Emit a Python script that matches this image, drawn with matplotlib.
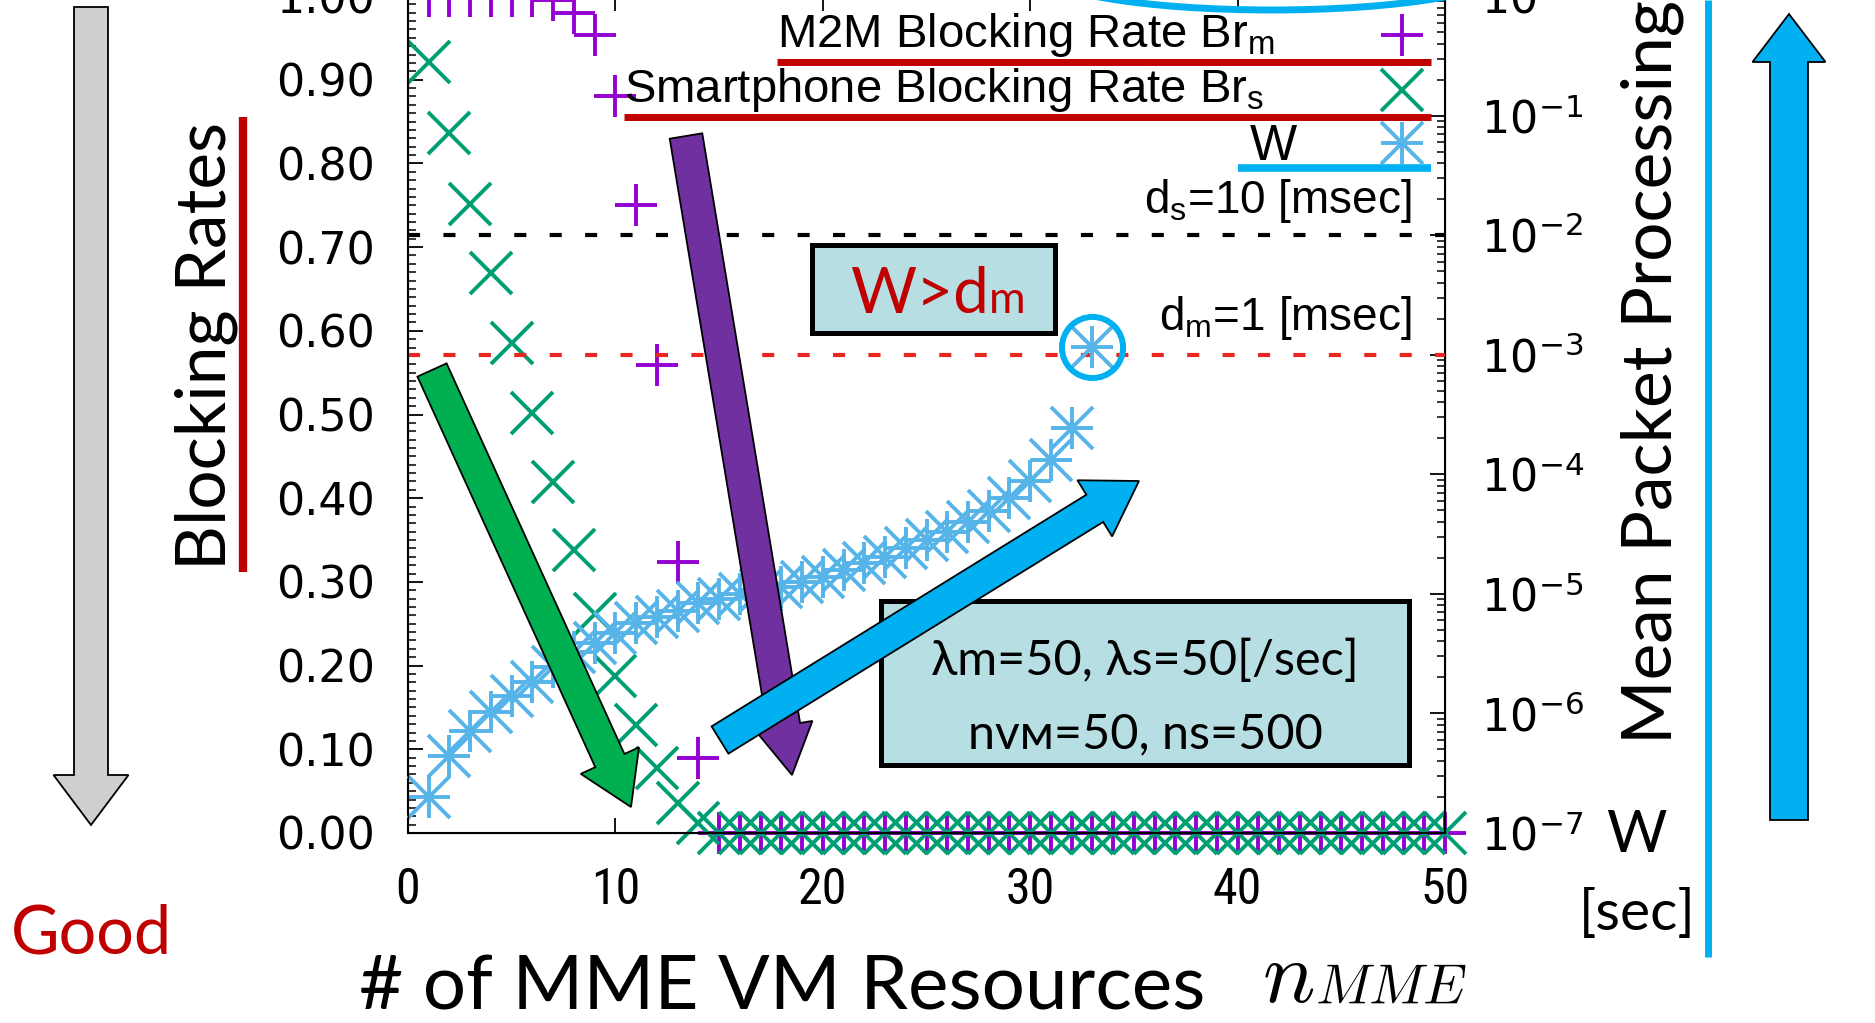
import numpy as np
import matplotlib
matplotlib.use('Agg')
import matplotlib.pyplot as plt
from matplotlib import font_manager
from matplotlib.patches import FancyArrow, Rectangle, Ellipse
from matplotlib.ticker import MultipleLocator, LogLocator, NullFormatter

# pick fonts that are really installed
names = {f.name for f in font_manager.fontManager.ttflist}
narrow = next((n for n in ['Liberation Sans Narrow', 'Roboto Condensed'] if n in names), 'Liberation Sans')
office = 'Lato' if 'Lato' in names else 'Open Sans'

# ---- data ----
# M2M blocking rate Br_m
n_m = [1, 2, 3, 4, 5, 6, 7, 8, 9, 10, 11, 12, 13, 14, 15, 16, 17, 18, 19, 20,
       21, 22, 23, 24, 25, 26, 27, 28, 29, 30, 31, 32, 33, 34, 35, 36, 37, 38, 39, 40,
       41, 42, 43, 44, 45, 46, 47, 48, 49, 50]
br_m = [1.0, 1.0, 1.0, 1.0, 1.0, 1.0, 0.995, 0.98, 0.953, 0.880, 0.750, 0.559, 0.324, 0.090, 0.0,
        0.0, 0.0, 0.0, 0.0, 0.0, 0.0, 0.0, 0.0, 0.0, 0.0, 0.0, 0.0, 0.0, 0.0, 0.0,
        0.0, 0.0, 0.0, 0.0, 0.0, 0.0, 0.0, 0.0, 0.0, 0.0, 0.0, 0.0, 0.0, 0.0, 0.0,
        0.0, 0.0, 0.0, 0.0, 0.0]
# smartphone blocking rate Br_s
n_s = n_m
br_s = [0.921, 0.836, 0.752, 0.669, 0.585, 0.502, 0.419, 0.338, 0.262, 0.187, 0.129, 0.078, 0.036, 0.012, 0.0,
        0.0, 0.0, 0.0, 0.0, 0.0, 0.0, 0.0, 0.0, 0.0, 0.0, 0.0, 0.0, 0.0, 0.0, 0.0,
        0.0, 0.0, 0.0, 0.0, 0.0, 0.0, 0.0, 0.0, 0.0, 0.0, 0.0, 0.0, 0.0, 0.0, 0.0,
        0.0, 0.0, 0.0, 0.0, 0.0]
# mean packet processing time W [sec]
n_w = [1, 2, 3, 4, 5, 6, 7, 8, 9, 10, 11, 12, 13, 14, 15, 16, 17, 18, 19, 20,
       21, 22, 23, 24, 25, 26, 27, 28, 29, 30, 31, 32, 33]
w_sec = [2.0e-7, 4.4e-7, 7.1e-7, 1.02e-6, 1.41e-6, 1.82e-6, 2.45e-6, 3.24e-6, 3.89e-6, 4.68e-6,
         5.75e-6, 6.46e-6, 7.24e-6, 8.32e-6, 9.12e-6, 1.0e-5, 1.07e-5, 1.15e-5, 1.26e-5, 1.38e-5,
         1.58e-5, 1.82e-5, 2.04e-5, 2.40e-5, 2.82e-5, 3.31e-5, 3.98e-5, 4.90e-5, 6.31e-5, 8.71e-5,
         1.32e-4, 2.45e-4, 1.17e-3]

d_s = 1e-2   # 10 msec
d_m = 1e-3   # 1 msec

x_ticks = [0, 10, 20, 30, 40, 50]
x_ticklabels = ['0', '10', '20', '30', '40', '50']
y_ticks = [0.0, 0.1, 0.2, 0.3, 0.4, 0.5, 0.6, 0.7, 0.8, 0.9, 1.0]
y_ticklabels = ['0.00', '0.10', '0.20', '0.30', '0.40', '0.50', '0.60', '0.70', '0.80', '0.90', '1.00']
y2_ticks = [1e-7, 1e-6, 1e-5, 1e-4, 1e-3, 1e-2, 1e-1, 1e0]
y2_ticklabels = [r'$10^{-7}$', r'$10^{-6}$', r'$10^{-5}$', r'$10^{-4}$', r'$10^{-3}$',
                 r'$10^{-2}$', r'$10^{-1}$', r'$10^{0}$']

purple = '#9400D3'
green = '#009E73'
lblue = '#56B4E9'
cyan = '#00B0F0'
dred = '#C00000'
boxfill = '#B7DFE3'

W, H = 1875, 1023
fig = plt.figure(figsize=(W / 100, H / 100), dpi=100)

# main axes (top edge sits just above the picture, as in the original)
ax = fig.add_axes([408 / W, (H - 833) / H, 1037 / W, 837 / H])
ax.set_xlim(0, 50)
ax.set_ylim(0, 1)
ax.set_xticks(x_ticks, labels=x_ticklabels, fontsize=36, fontfamily=narrow)
ax.set_yticks(y_ticks, labels=y_ticklabels, fontsize=32, fontfamily='DejaVu Sans')
ax.yaxis.set_minor_locator(MultipleLocator(0.01))
ax.tick_params(which='major', direction='in', length=11, width=1.3)
ax.tick_params(which='minor', direction='in', length=5.5, width=1.1)
ax.tick_params(axis='x', top=True, pad=24)
ax.tick_params(axis='y', right=False, pad=24)
for sp in ax.spines.values():
    sp.set_linewidth(1.5)

ax.plot(n_m, br_m, ls='none', marker='+', ms=30, mew=2.8, color=purple, clip_on=False)
ax.plot(n_s, br_s, ls='none', marker='x', ms=30, mew=2.8, color=green, clip_on=False)

# right log axis for W
ax2 = ax.twinx()
ax2.set_yscale('log')
ax2.set_ylim(1e-7, 1e0)
ax2.set_yticks(y2_ticks, labels=y2_ticklabels, fontsize=32)
ax2.yaxis.set_minor_locator(LogLocator(base=10, subs=np.arange(2, 10)))
ax2.yaxis.set_minor_formatter(NullFormatter())
ax2.tick_params(which='major', direction='in', length=11, width=1.3, pad=26)
ax2.tick_params(which='minor', direction='in', length=5.5, width=1.1)

ax2.axhline(d_s, color='black', lw=3, ls=(0, (2.9, 5.6)))
ax2.axhline(d_m, color='#E8281E', lw=3, ls=(0, (2.9, 5.6)))
ax2.plot(n_w, w_sec, ls='none', marker='+', ms=30, mew=2.8, color=lblue, clip_on=False)
ax2.plot(n_w, w_sec, ls='none', marker='x', ms=30, mew=2.8, color=lblue, clip_on=False)
# circle around the point that passes d_m
ax2.plot(n_w[-1], w_sec[-1], ls='none', marker='o', ms=44, mfc='none', mec=cyan, mew=4.3,
         clip_on=False)

# ---- overlay in pixel units for the slide annotations ----
ov = fig.add_axes([0, 0, 1, 1])
ov.set_xlim(0, W)
ov.set_ylim(H, 0)
ov.axis('off')
ov.set_zorder(5)


def arrow(x0, y0, x1, y1, w, hw, hl, fc):
    ov.add_patch(FancyArrow(x0, y0, x1 - x0, y1 - y0, width=w, head_width=hw, head_length=hl,
                            length_includes_head=True, fc=fc, ec='black', lw=1.3))


# legend with underlines
leg_font = dict(fontsize=34, family='Liberation Sans', va='baseline', ha='left')
ov.text(777, 47, r'M2M Blocking Rate Br$_\mathregular{m}$', **leg_font)
ov.text(624, 102, r'Smartphone Blocking Rate Br$_\mathregular{s}$', **leg_font)
ov.text(1250, 160, 'W', fontsize=36, family='Liberation Sans', va='baseline', ha='left')
ov.plot([777, 1431], [62, 62], color=dred, lw=5, solid_capstyle='butt')
ov.plot([624, 1431], [117, 117], color=dred, lw=5, solid_capstyle='butt')
ov.plot([1238, 1431], [168, 168], color=cyan, lw=5.5, solid_capstyle='butt')
ov.plot(1402, 35, marker='+', ms=30, mew=2.8, color=purple)
ov.plot(1402, 90, marker='x', ms=30, mew=2.8, color=green)
ov.plot(1402, 143, marker='+', ms=30, mew=2.8, color=lblue)
ov.plot(1402, 143, marker='x', ms=30, mew=2.8, color=lblue)
ov.add_patch(Ellipse((1272, -30), 468, 80, fill=False, ec=cyan, lw=5))

# delay bound labels
ov.text(1412, 213, r'd$_\mathregular{s}$=10 [msec]', fontsize=33, family='Liberation Sans',
        ha='right', va='baseline')
ov.text(1412, 330, r'd$_\mathregular{m}$=1 [msec]', fontsize=33, family='Liberation Sans',
        ha='right', va='baseline')

# W > d_m box
ov.add_patch(Rectangle((812, 245), 243, 88, fc=boxfill, ec='black', lw=3.6))
ov.text(989, 313, 'W>d', fontsize=46, family=office, color=dred, ha='right', va='baseline')
ov.text(989, 313, 'm', fontsize=32, family=office, color=dred, ha='left', va='baseline')

# arrows inside the plot
arrow(432, 370, 631, 807, 32, 64, 51, '#00B050')
arrow(686, 136, 792, 775, 33, 58, 50, '#7030A0')
ov.add_patch(Rectangle((881, 601), 528, 164, fc=boxfill, ec='black', lw=3.6))
ov.text(1145, 675, 'λm=50, λs=50[/sec]', fontsize=35, family=[office, 'DejaVu Sans'],
        ha='center', va='baseline')
ov.text(1145, 748, 'nᴠᴍ=50, ns=500', fontsize=35, family=[office, 'DejaVu Sans'],
        ha='center', va='baseline')
arrow(720, 740, 1139, 481, 32, 66, 52, cyan)

# axis titles
ov.text(225, 346, 'Blocking Rates', fontsize=50, family=office, rotation=90,
        rotation_mode='anchor', ha='center', va='baseline')
ov.plot([243, 243], [117, 572], color=dred, lw=6, solid_capstyle='butt')
ov.text(1672, 744, 'Mean Packet Processing', fontsize=50, family=office, rotation=90,
        rotation_mode='anchor', ha='left', va='baseline')
ov.text(1636, 852, 'W', fontsize=42, family=office, ha='center', va='baseline')
ov.text(1637, 915, '[sec]', fontsize=41, family=office, ha='center', va='center')
ov.plot([1708, 1708], [0, 957], color=cyan, lw=5, solid_capstyle='butt')

ov.text(359, 1010, '# of MME VM Resources', fontsize=55, family=office, ha='left', va='baseline')
ov.text(1262, 1002, r'$n$', fontsize=63, math_fontfamily='cm', ha='left', va='baseline')
ov.text(1315, 1004, r'$MME$', fontsize=40, math_fontfamily='cm', ha='left', va='baseline')

# good / better direction arrows
arrow(91, 7, 91, 825, 34, 75, 50, '#D0CECE')
ov.text(92, 953, 'Good', fontsize=48, family=office, color=dred, ha='center', va='baseline')
arrow(1789, 820, 1789, 14, 38, 73, 48, cyan)

fig.savefig('out.png', dpi=100)
